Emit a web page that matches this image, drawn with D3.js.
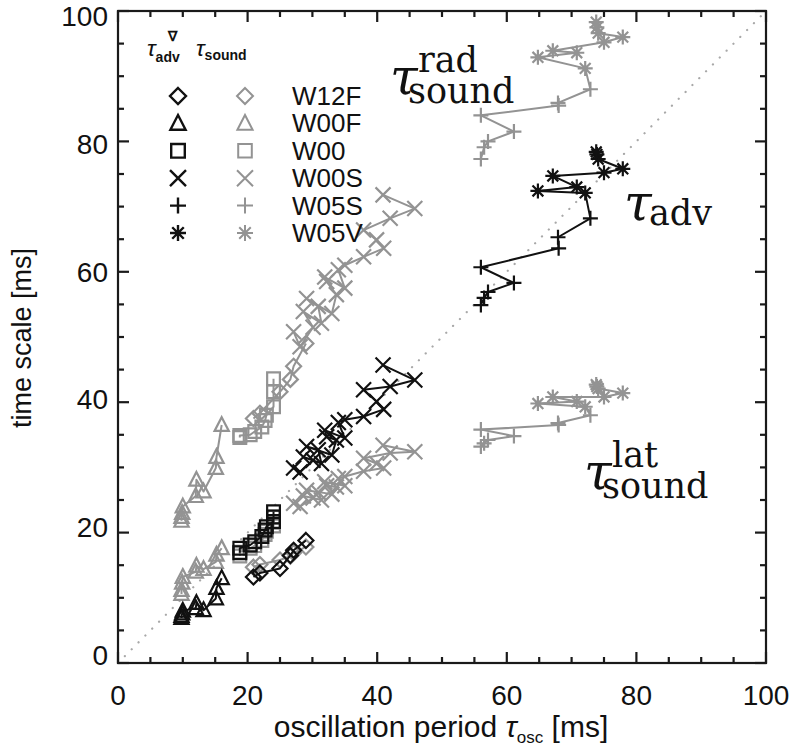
<!DOCTYPE html>
<html>
<head>
<meta charset="utf-8">
<script src="https://cdn.jsdelivr.net/npm/d3@7"></script>
<style>
  html, body { margin: 0; padding: 0; background: #fff; }
  svg { display: block; }
  .sans { font-family: "Liberation Sans", Arial, sans-serif; }
  .serif { font-family: "DejaVu Serif", "Liberation Serif", serif; }
</style>
</head>
<body>
<svg id="chart" width="794" height="747"></svg>
<script>
// ---- axis ticks -------------------------------------------------------
const xTickValues = [0, 20, 40, 60, 80, 100];
const yTickValues = [0, 20, 40, 60, 80, 100];
const xTickLabels = ["0", "20", "40", "60", "80", "100"];
const yTickLabels = ["0", "20", "40", "60", "80", "100"];

// ---- models (legend order) ------------------------------------------
const modelNames = ["W12F", "W00F", "W00", "W00S", "W05S", "W05V"];
const modelSymbols = ["diamond", "triangle", "square", "cross", "plus", "asterisk"];

// oscillation period tau_osc [ms] and the three time scales [ms], in time order
const oscW12F = [20.9, 21.9, 25.0, 26.6, 27.1, 29.0];
const advW12F = [13.2, 13.8, 14.5, 16.5, 17.3, 18.8];
const radW12F = [37.5, 38.3, 41.6, 43.5, 45.5, 49.0];
const latW12F = [14.7, 15.1, 15.8, 16.4, 16.9, 17.8];

const oscW00F = [9.8, 9.8, 9.9, 10.0, 12.0, 12.1, 13.2, 15.1, 15.2, 16.0];
const advW00F = [6.9, 7.2, 7.6, 8.0, 8.4, 9.2, 8.1, 9.9, 11.5, 13.0];
const radW00F = [21.8, 22.4, 23.0, 24.0, 25.6, 28.1, 26.3, 29.9, 31.6, 36.5];
const latW00F = [10.6, 11.2, 12.3, 13.2, 14.0, 14.9, 14.4, 15.5, 16.6, 17.6];

const oscW00 = [18.8, 18.8, 20.4, 21.1, 22.2, 22.7, 22.9, 24.0, 24.0, 24.0];
const advW00 = [16.9, 17.6, 18.1, 18.6, 19.4, 20.4, 20.9, 21.7, 22.4, 23.2];
const radW00 = [34.6, 34.9, 35.0, 35.5, 36.2, 37.2, 38.0, 39.3, 41.6, 43.6];
const latW00 = [16.4, 17.0, 17.6, 18.0, 18.8, 19.7, 20.2, 21.0, 21.6, 22.4];

const oscW00S = [27.1, 28.1, 30.1, 28.6, 31.4, 30.9, 29.1, 33.0, 33.7, 32.2, 31.9,
                 35.0, 34.0, 35.0, 37.9, 41.0, 39.9, 37.9, 42.0, 45.8, 40.9];
const advW00S = [29.9, 29.3, 31.1, 31.6, 30.6, 32.7, 33.2, 31.9, 34.2, 34.7, 35.7,
                 34.5, 36.9, 37.3, 37.8, 38.9, 40.1, 41.9, 42.4, 43.4, 45.7];
const radW00S = [50.8, 48.5, 51.5, 53.9, 52.1, 54.7, 55.9, 53.6, 56.5, 58.5, 59.2,
                 57.5, 60.3, 61.0, 62.3, 63.6, 64.9, 66.4, 68.2, 69.7, 71.8];
const latW00S = [24.5, 24.0, 25.3, 25.6, 25.0, 26.2, 26.5, 25.9, 27.0, 27.2, 27.8,
                 27.2, 28.3, 28.6, 29.4, 29.9, 30.6, 31.4, 32.2, 32.4, 33.4];

const oscW05S = [56.0, 56.5, 57.1, 61.1, 56.0, 68.0, 67.9, 72.9];
const advW05S = [54.9, 56.0, 56.9, 58.3, 60.7, 63.6, 65.3, 68.2];
const radW05S = [77.3, 79.1, 80.0, 81.5, 84.0, 85.5, 85.9, 88.0];
const latW05S = [33.2, 33.7, 34.2, 34.8, 35.8, 36.5, 36.8, 38.0];

const oscW05V = [72.1, 64.8, 70.8, 67.1, 75.0, 77.9, 74.1, 73.9, 73.8];
const advW05V = [72.1, 72.4, 73.0, 74.7, 75.2, 75.8, 77.3, 78.0, 78.4];
const radW05V = [91.2, 92.9, 93.6, 93.9, 95.2, 96.0, 96.6, 97.5, 98.3];
const latW05V = [39.3, 39.8, 40.1, 40.8, 40.8, 41.4, 42.1, 42.4, 42.7];

// W05V is the continuation of the W05S run, so its track starts from W05S's last point
const continuesFrom = { W05V: "W05S" };

const seriesTable = {
  W12F: { osc: oscW12F, adv: advW12F, rad: radW12F, lat: latW12F },
  W00F: { osc: oscW00F, adv: advW00F, rad: radW00F, lat: latW00F },
  W00:  { osc: oscW00,  adv: advW00,  rad: radW00,  lat: latW00 },
  W00S: { osc: oscW00S, adv: advW00S, rad: radW00S, lat: latW00S },
  W05S: { osc: oscW05S, adv: advW05S, rad: radW05S, lat: latW05S },
  W05V: { osc: oscW05V, adv: advW05V, rad: radW05V, lat: latW05V }
};

// ---- layout -----------------------------------------------------------
const svg = d3.select("#chart");
const plot = { left: 118, top: 11, width: 648, height: 652 };
const black = "#111";
const grey = "#939393";
const axisColor = "#1a1a1a";

const x = d3.scaleLinear().domain([0, 100]).range([plot.left, plot.left + plot.width]);
const y = d3.scaleLinear().domain([0, 100]).range([plot.top + plot.height, plot.top]);

// ---- symbols ------------------------------------------------------------
function symbolPath(kind, r) {
  switch (kind) {
    case "diamond":
      return `M0,${-r}L${r},0L0,${r}L${-r},0Z`;
    case "triangle": {
      const h = r * 1.05;
      return `M0,${-h}L${r * 0.95},${h * 0.75}L${-r * 0.95},${h * 0.75}Z`;
    }
    case "square":
      return `M${-r * 0.85},${-r * 0.85}H${r * 0.85}V${r * 0.85}H${-r * 0.85}Z`;
    case "cross":
      return `M${-r},${-r}L${r},${r}M${r},${-r}L${-r},${r}`;
    case "plus":
      return `M${-r},0H${r}M0,${-r}V${r}`;
    case "asterisk": {
      const d = r * 0.72;
      return `M${-r},0H${r}M0,${-r}V${r}M${-d},${-d}L${d},${d}M${d},${-d}L${-d},${d}`;
    }
  }
}

// ---- diagonal tau = tau_osc ---------------------------------------------
svg.append("line")
  .attr("x1", x(0)).attr("y1", y(0))
  .attr("x2", x(100)).attr("y2", y(100))
  .attr("stroke", "#a8a8a8")
  .attr("stroke-width", 2.2)
  .attr("stroke-linecap", "round")
  .attr("stroke-dasharray", "0.1,9.6");

// ---- data tracks -----------------------------------------------------------
const g = svg.append("g");
const lineGen = d3.line().x(d => x(d[0])).y(d => y(d[1]));

function trackPoints(name, key) {
  const s = seriesTable[name];
  return s.osc.map((v, i) => [v, s[key][i]]);
}

// grey sound-crossing tracks first, black advection tracks on top
const layers = [
  { key: "rad", color: grey },
  { key: "lat", color: grey },
  { key: "adv", color: black }
];

layers.forEach(layer => {
  modelNames.forEach((name, mi) => {
    const pts = trackPoints(name, layer.key);
    const linePts = continuesFrom[name]
      ? [trackPoints(continuesFrom[name], layer.key).slice(-1)[0], ...pts]
      : pts;
    g.append("path")
      .attr("d", lineGen(linePts))
      .attr("fill", "none")
      .attr("stroke", layer.color)
      .attr("stroke-width", 2)
      .attr("stroke-linejoin", "round");
    g.append("g").selectAll("path")
      .data(pts)
      .join("path")
      .attr("transform", d => `translate(${x(d[0])},${y(d[1])})`)
      .attr("d", symbolPath(modelSymbols[mi], 7.5))
      .attr("fill", "none")
      .attr("stroke", layer.color)
      .attr("stroke-width", 2.2);
  });
});

// ---- axes box with inward ticks on all four sides -----------------------------
const minorTicks = d3.range(0, 101, 5);
const frame = svg.append("g").attr("stroke", axisColor).attr("stroke-width", 2.2);
frame.append("rect")
  .attr("x", plot.left).attr("y", plot.top)
  .attr("width", plot.width).attr("height", plot.height)
  .attr("fill", "none");

minorTicks.forEach(v => {
  const len = v % 20 === 0 ? 11 : 6;
  frame.append("line").attr("x1", x(v)).attr("x2", x(v))
    .attr("y1", y(0)).attr("y2", y(0) - len);
  frame.append("line").attr("x1", x(v)).attr("x2", x(v))
    .attr("y1", y(100)).attr("y2", y(100) + len);
  frame.append("line").attr("y1", y(v)).attr("y2", y(v))
    .attr("x1", x(0)).attr("x2", x(0) + len);
  frame.append("line").attr("y1", y(v)).attr("y2", y(v))
    .attr("x1", x(100)).attr("x2", x(100) - len);
});

// tick labels
svg.append("g").selectAll("text")
  .data(xTickValues)
  .join("text")
  .attr("class", "sans")
  .attr("x", d => x(d))
  .attr("y", y(0) + 42)
  .attr("text-anchor", "middle")
  .attr("font-size", 28)
  .attr("fill", "#111")
  .text((d, i) => xTickLabels[i]);

// y labels sit on a slightly tighter span than the ticks themselves
const yLabel = d3.scaleLinear().domain([0, 100]).range([655, 16]);
svg.append("g").selectAll("text")
  .data(yTickValues)
  .join("text")
  .attr("class", "sans")
  .attr("x", x(0) - 10)
  .attr("y", d => yLabel(d) + 10)
  .attr("text-anchor", "end")
  .attr("font-size", 28)
  .attr("fill", "#111")
  .text((d, i) => yTickLabels[i]);

// axis titles
const xt = svg.append("text")
  .attr("class", "sans")
  .attr("x", 441).attr("y", 737)
  .attr("text-anchor", "middle")
  .attr("font-size", 30)
  .attr("fill", "#111");
xt.append("tspan").text("oscillation period ");
xt.append("tspan").attr("font-style", "italic").text("τ");
xt.append("tspan").attr("font-size", 17).attr("dy", 6).text("osc");
xt.append("tspan").attr("dy", -6).text(" [ms]");

svg.append("text")
  .attr("class", "sans")
  .attr("transform", "translate(31,338) rotate(-90)")
  .attr("text-anchor", "middle")
  .attr("font-size", 27)
  .attr("fill", "#111")
  .text("time scale [ms]");

// ---- legend ------------------------------------------------------------
const legend = svg.append("g");
const legCol1 = 178, legCol2 = 245, legText = 292;
const legRow0 = 96, legStep = 27.4;

const h1 = legend.append("text").attr("class", "sans")
  .attr("x", 147).attr("y", 56).attr("font-size", 23).attr("fill", "#111");
h1.append("tspan").attr("font-style", "italic").text("τ");
h1.append("tspan").attr("font-size", 14).attr("font-weight", "bold").attr("dy", 6).text("adv");
legend.append("text").attr("class", "sans")
  .attr("x", 172).attr("y", 41).attr("font-size", 14).attr("font-weight", "bold")
  .attr("text-anchor", "middle").attr("fill", "#111").text("∇");

const h2 = legend.append("text").attr("class", "sans")
  .attr("x", 196).attr("y", 56).attr("font-size", 23).attr("fill", "#111");
h2.append("tspan").attr("font-style", "italic").text("τ");
h2.append("tspan").attr("font-size", 14).attr("font-weight", "bold").attr("dy", 4).text("sound");

modelNames.forEach((name, i) => {
  const yy = legRow0 + i * legStep;
  legend.append("path")
    .attr("transform", `translate(${legCol1},${yy})`)
    .attr("d", symbolPath(modelSymbols[i], 8))
    .attr("fill", "none").attr("stroke", black).attr("stroke-width", 2.4);
  legend.append("path")
    .attr("transform", `translate(${legCol2},${yy})`)
    .attr("d", symbolPath(modelSymbols[i], 8))
    .attr("fill", "none").attr("stroke", grey).attr("stroke-width", 2);
  legend.append("text").attr("class", "sans")
    .attr("x", legText).attr("y", yy + 9)
    .attr("font-size", 26).attr("fill", "#111")
    .text(name);
});

// ---- curve annotations --------------------------------------------------
function tauLabel(xPos, yPos, sub, sup) {
  const t = svg.append("g").attr("class", "serif").attr("fill", "#111");
  t.append("text").attr("x", xPos).attr("y", yPos)
    .attr("font-size", 50).attr("font-style", "italic").text("τ");
  if (sup) {
    t.append("text").attr("x", xPos + 28).attr("y", yPos - 22)
      .attr("font-size", 35).text(sup);
  }
  t.append("text").attr("x", xPos + (sup ? 18 : 25)).attr("y", yPos + (sup ? 9 : 5))
    .attr("font-size", 35).text(sub);
}
tauLabel(390, 94, "sound", "rad");
tauLabel(624, 220, "adv", null);
tauLabel(584, 489, "sound", "lat");
</script>
</body>
</html>
